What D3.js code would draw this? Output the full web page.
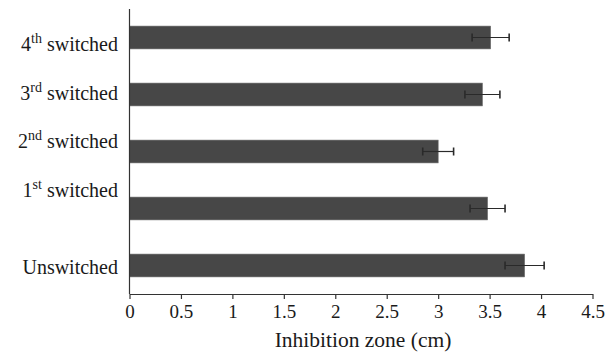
<!DOCTYPE html>
<html>
<head>
<meta charset="utf-8">
<script src="https://cdn.jsdelivr.net/npm/d3@7"></script>
</head>
<body style="margin:0">
<svg id="chart" width="606" height="354" font-family="Liberation Serif"></svg>
<script>
// groups, top to bottom
const groups = ["4th", "3rd", "2nd", "1st", "Unswitched"];
const labelMain = ["4", "3", "2", "1", "Unswitched"];
const labelSup = ["th", "rd", "nd", "st", ""];
const zoneMean = [3.51, 3.43, 3.00, 3.48, 3.84];
const zoneErr = [0.18, 0.17, 0.15, 0.17, 0.19];
const xTicks = [0, 0.5, 1, 1.5, 2, 2.5, 3, 3.5, 4, 4.5];

const width = 606, height = 354;
const margin = {top: 9, right: 13.5, bottom: 60, left: 129.5};
const fontName = "Liberation Serif";

const svg = d3.select("#chart");

const x = d3.scaleLinear()
    .domain([0, 4.5])
    .range([margin.left, width - margin.right]);

const y = d3.scaleBand()
    .domain(groups)
    .range([margin.top, height - margin.bottom])
    .paddingInner(0.6)
    .paddingOuter(0.3);

// labels in the original sit a bit off the bars
const labelY = d3.scalePoint()
    .domain(groups.slice(0, 4))
    .range([51, 197]);

const data = groups.map((g, i) => ({
    group: g, main: labelMain[i], sup: labelSup[i],
    mean: zoneMean[i], err: zoneErr[i]
}));

// bars
svg.selectAll("rect.bar")
    .data(data)
    .join("rect")
    .attr("class", "bar")
    .attr("x", x(0))
    .attr("y", d => y(d.group))
    .attr("width", d => x(d.mean) - x(0))
    .attr("height", y.bandwidth())
    .attr("fill", "#474747")
    .attr("stroke", "#6a6a6a")
    .attr("stroke-width", 0.6);

// error bars
const eb = svg.selectAll("g.err")
    .data(data)
    .join("g")
    .attr("class", "err")
    .attr("stroke", "#2a2a2a")
    .attr("stroke-width", 1.2);
eb.append("line")
    .attr("x1", d => x(d.mean - d.err))
    .attr("x2", d => x(d.mean + d.err))
    .attr("y1", d => y(d.group) + y.bandwidth() / 2)
    .attr("y2", d => y(d.group) + y.bandwidth() / 2);
eb.selectAll("line.cap")
    .data(d => [d.mean - d.err, d.mean + d.err].map(v => ({v, g: d.group})))
    .join("line")
    .attr("class", "cap")
    .attr("stroke-width", 1.6)
    .attr("x1", d => x(d.v))
    .attr("x2", d => x(d.v))
    .attr("y1", d => y(d.g) + y.bandwidth() / 2 - 4)
    .attr("y2", d => y(d.g) + y.bandwidth() / 2 + 4);

// x axis
const xAxis = svg.append("g")
    .attr("transform", `translate(0,${height - margin.bottom})`)
    .call(d3.axisBottom(x).tickValues(xTicks).tickFormat(d3.format("")).tickSize(5).tickSizeOuter(0).tickPadding(6));
xAxis.attr("font-family", fontName).attr("font-size", 19);
xAxis.select(".domain").attr("stroke", "#333").attr("stroke-width", 1.2);
xAxis.selectAll(".tick line").attr("stroke", "#333").attr("stroke-width", 1.2);
xAxis.selectAll(".tick text").attr("fill", "#1a1a1a").attr("font-family", fontName);

// y axis line
svg.append("line")
    .attr("x1", x(0)).attr("x2", x(0))
    .attr("y1", margin.top).attr("y2", height - margin.bottom)
    .attr("stroke", "#333")
    .attr("stroke-width", 1.2);

// group labels
const lab = svg.selectAll("text.lab")
    .data(data)
    .join("text")
    .attr("class", "lab")
    .attr("x", 118)
    .attr("y", d => d.sup ? labelY(d.group) : y(d.group) + y.bandwidth() / 2 + 8)
    .attr("text-anchor", "end")
    .attr("font-family", fontName)
    .attr("font-size", 20)
    .attr("fill", "#1a1a1a");
lab.append("tspan").text(d => d.main);
lab.filter(d => d.sup).append("tspan")
    .attr("dy", -8)
    .attr("font-size", 14)
    .text(d => d.sup);
lab.filter(d => d.sup).append("tspan")
    .attr("dy", 8)
    .text(" switched");

// axis title
svg.append("text")
    .attr("x", (x(0) + x(4.5)) / 2 + 2)
    .attr("y", 347)
    .attr("text-anchor", "middle")
    .attr("font-family", fontName)
    .attr("font-size", 21.5)
    .attr("fill", "#1a1a1a")
    .text("Inhibition zone (cm)");
</script>
</body>
</html>
